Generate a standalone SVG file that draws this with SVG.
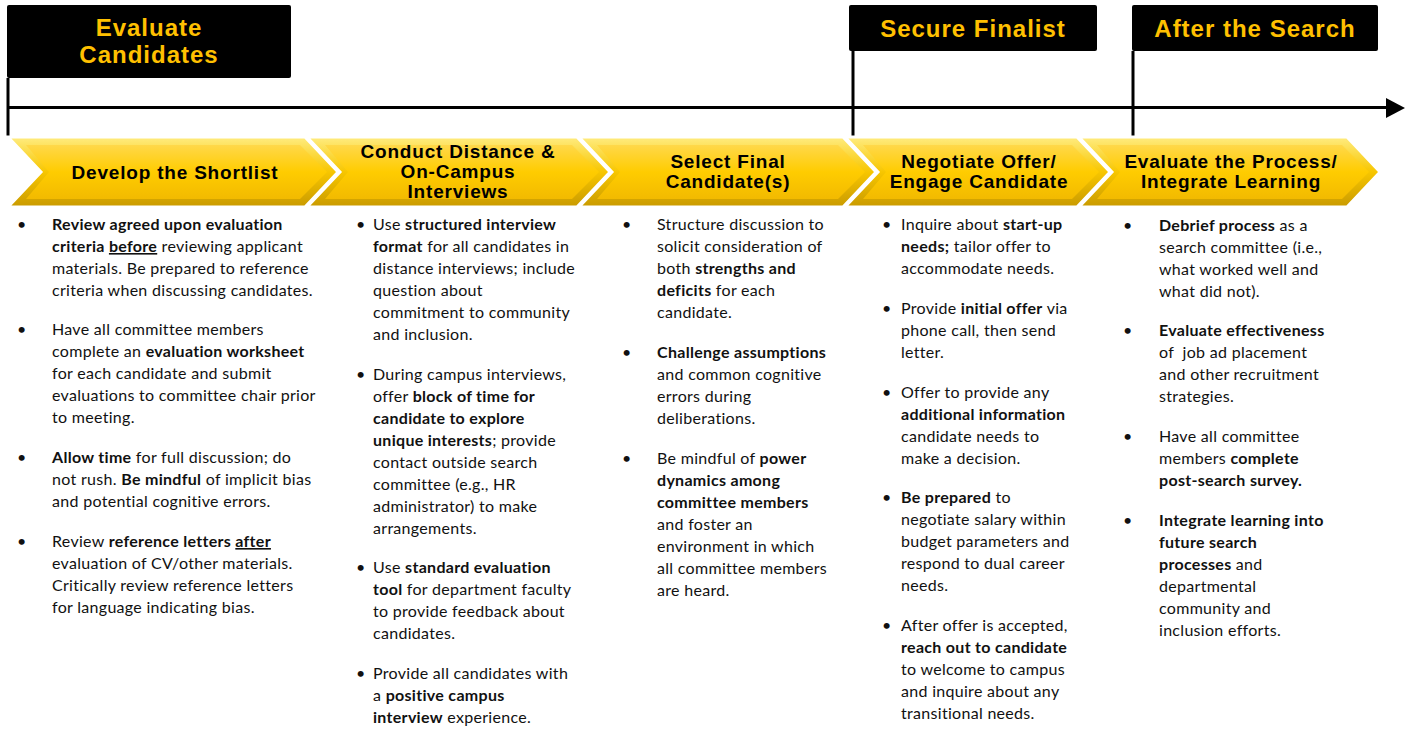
<svg xmlns="http://www.w3.org/2000/svg" width="1408" height="730" viewBox="0 0 1408 730">
<defs>
<linearGradient id="gOuter" x1="0" y1="0" x2="0" y2="1">
<stop offset="0" stop-color="#FFEC80"/>
<stop offset="0.5" stop-color="#F7C600"/>
<stop offset="1" stop-color="#C99A00"/>
</linearGradient>
<linearGradient id="gInner" x1="0" y1="0" x2="0" y2="1">
<stop offset="0" stop-color="#FFD84A"/>
<stop offset="0.5" stop-color="#FFCC00"/>
<stop offset="1" stop-color="#F2BA00"/>
</linearGradient>
</defs>
<style>
.hdr{fill:#000}
.htxt{font-family:"Liberation Sans",Arial,sans-serif;font-weight:bold;font-size:24px;fill:#FFC000;letter-spacing:1px;text-anchor:middle}
.chev{fill:url(#gOuter);stroke:#fff;stroke-width:3}
.chevin{fill:url(#gInner)}
.ctxt{font-family:"Liberation Sans",Arial,sans-serif;font-weight:bold;font-size:19px;fill:#000;letter-spacing:0.8px;text-anchor:middle}
.ln{stroke:#000;stroke-width:3;fill:none}
.t{font-family:Lato,"Open Sans",sans-serif;font-size:16px;letter-spacing:0.3px;fill:#111}
.b{font-weight:bold}
.u{text-decoration:underline}
</style>
<rect width="1408" height="730" fill="#fff"/>

<g id="connectors">
<line class="ln" x1="8" y1="78" x2="8" y2="137"/>
<line class="ln" x1="853" y1="51" x2="853" y2="137"/>
<line class="ln" x1="1133" y1="51" x2="1133" y2="137"/>
<line class="ln" x1="7" y1="107.5" x2="1388" y2="107.5"/>
<polygon points="1386,98 1405,108 1386,118" fill="#000"/>
</g>

<g id="phase-evaluate">
<rect class="hdr" x="7" y="5" width="284" height="73" rx="2"/>
<text class="htxt" x="149" y="36">Evaluate</text>
<text class="htxt" x="149" y="63">Candidates</text>
</g>
<g id="phase-secure">
<rect class="hdr" x="849" y="5" width="248" height="46" rx="2"/>
<text class="htxt" x="973" y="37">Secure Finalist</text>
</g>
<g id="phase-after">
<rect class="hdr" x="1132" y="5" width="246" height="46" rx="2"/>
<text class="htxt" x="1255" y="37">After the Search</text>
</g>

<g id="step-shortlist">
<polygon class="chev" points="8,137 305,137 338,172 305,207 8,207 41,172"/>
<polygon class="chevin" points="26,145 300,145 327,172 300,199 26,199 49,172"/>
<text class="ctxt" x="175" y="179">Develop the Shortlist</text>
</g>
<g id="step-interviews">
<polygon class="chev" points="307,137 577,137 610,172 577,207 307,207 340,172"/>
<polygon class="chevin" points="325,145 572,145 599,172 572,199 325,199 348,172"/>
<text class="ctxt" x="458" y="158">Conduct Distance &amp;</text>
<text class="ctxt" x="458" y="178">On-Campus</text>
<text class="ctxt" x="458" y="198">Interviews</text>
</g>
<g id="step-select">
<polygon class="chev" points="579,137 843,137 876,172 843,207 579,207 612,172"/>
<polygon class="chevin" points="597,145 838,145 865,172 838,199 597,199 620,172"/>
<text class="ctxt" x="728" y="168">Select Final</text>
<text class="ctxt" x="728" y="188">Candidate(s)</text>
</g>
<g id="step-negotiate">
<polygon class="chev" points="845,137 1077,137 1110,172 1077,207 845,207 878,172"/>
<polygon class="chevin" points="863,145 1072,145 1099,172 1072,199 863,199 886,172"/>
<text class="ctxt" x="979" y="168">Negotiate Offer/</text>
<text class="ctxt" x="979" y="188">Engage Candidate</text>
</g>
<g id="step-evaluate">
<polygon class="chev" points="1079,137 1347,137 1380,172 1347,207 1079,207 1112,172"/>
<polygon class="chevin" points="1097,145 1342,145 1369,172 1342,199 1097,199 1120,172"/>
<text class="ctxt" x="1231" y="168">Evaluate the Process/</text>
<text class="ctxt" x="1231" y="188">Integrate Learning</text>
</g>

<g id="col-shortlist" class="t">
<text x="17" y="230">•</text>
<text x="52" y="230" class="b">Review agreed upon evaluation</text>
<text x="52" y="252"><tspan class="b">criteria </tspan><tspan class="b u">before</tspan> reviewing applicant</text>
<text x="52" y="274">materials. Be prepared to reference</text>
<text x="52" y="296">criteria when discussing candidates.</text>
<text x="17" y="335">•</text>
<text x="52" y="335">Have all committee members</text>
<text x="52" y="357">complete an <tspan class="b">evaluation worksheet</tspan></text>
<text x="52" y="379">for each candidate and submit</text>
<text x="52" y="401">evaluations to committee chair prior</text>
<text x="52" y="423">to meeting.</text>
<text x="17" y="463">•</text>
<text x="52" y="463"><tspan class="b">Allow time</tspan> for full discussion; do</text>
<text x="52" y="485">not rush. <tspan class="b">Be mindful</tspan> of implicit bias</text>
<text x="52" y="507">and potential cognitive errors.</text>
<text x="17" y="547">•</text>
<text x="52" y="547">Review <tspan class="b">reference letters </tspan><tspan class="b u">after</tspan></text>
<text x="52" y="569">evaluation of CV/other materials.</text>
<text x="52" y="591">Critically review reference letters</text>
<text x="52" y="613">for language indicating bias.</text>
</g>

<g id="col-interviews" class="t">
<text x="356" y="230">•</text>
<text x="373" y="230">Use <tspan class="b">structured interview</tspan></text>
<text x="373" y="252"><tspan class="b">format</tspan> for all candidates in</text>
<text x="373" y="274">distance interviews; include</text>
<text x="373" y="296">question about</text>
<text x="373" y="318">commitment to community</text>
<text x="373" y="340">and inclusion.</text>
<text x="356" y="380">•</text>
<text x="373" y="380">During campus interviews,</text>
<text x="373" y="402">offer <tspan class="b">block of time for</tspan></text>
<text x="373" y="424" class="b">candidate to explore</text>
<text x="373" y="446"><tspan class="b">unique interests</tspan>; provide</text>
<text x="373" y="468">contact outside search</text>
<text x="373" y="490">committee (e.g., HR</text>
<text x="373" y="512">administrator) to make</text>
<text x="373" y="534">arrangements.</text>
<text x="356" y="573">•</text>
<text x="373" y="573">Use <tspan class="b">standard evaluation</tspan></text>
<text x="373" y="595"><tspan class="b">tool</tspan> for department faculty</text>
<text x="373" y="617">to provide feedback about</text>
<text x="373" y="639">candidates.</text>
<text x="356" y="679">•</text>
<text x="373" y="679">Provide all candidates with</text>
<text x="373" y="701">a <tspan class="b">positive campus</tspan></text>
<text x="373" y="723"><tspan class="b">interview</tspan> experience.</text>
</g>

<g id="col-select" class="t">
<text x="622" y="230">•</text>
<text x="657" y="230">Structure discussion to</text>
<text x="657" y="252">solicit consideration of</text>
<text x="657" y="274">both <tspan class="b">strengths and</tspan></text>
<text x="657" y="296"><tspan class="b">deficits</tspan> for each</text>
<text x="657" y="318">candidate.</text>
<text x="622" y="358">•</text>
<text x="657" y="358" class="b">Challenge assumptions</text>
<text x="657" y="380">and common cognitive</text>
<text x="657" y="402">errors during</text>
<text x="657" y="424">deliberations.</text>
<text x="622" y="464">•</text>
<text x="657" y="464">Be mindful of <tspan class="b">power</tspan></text>
<text x="657" y="486" class="b">dynamics among</text>
<text x="657" y="508" class="b">committee members</text>
<text x="657" y="530">and foster an</text>
<text x="657" y="552">environment in which</text>
<text x="657" y="574">all committee members</text>
<text x="657" y="596">are heard.</text>
</g>

<g id="col-negotiate" class="t">
<text x="882" y="230">•</text>
<text x="901" y="230">Inquire about <tspan class="b">start-up</tspan></text>
<text x="901" y="252"><tspan class="b">needs;</tspan> tailor offer to</text>
<text x="901" y="274">accommodate needs.</text>
<text x="882" y="314">•</text>
<text x="901" y="314">Provide <tspan class="b">initial offer</tspan> via</text>
<text x="901" y="336">phone call, then send</text>
<text x="901" y="358">letter.</text>
<text x="882" y="398">•</text>
<text x="901" y="398">Offer to provide any</text>
<text x="901" y="420" class="b">additional information</text>
<text x="901" y="442">candidate needs to</text>
<text x="901" y="464">make a decision.</text>
<text x="882" y="503">•</text>
<text x="901" y="503"><tspan class="b">Be prepared</tspan> to</text>
<text x="901" y="525">negotiate salary within</text>
<text x="901" y="547">budget parameters and</text>
<text x="901" y="569">respond to dual career</text>
<text x="901" y="591">needs.</text>
<text x="882" y="631">•</text>
<text x="901" y="631">After offer is accepted,</text>
<text x="901" y="653" class="b">reach out to candidate</text>
<text x="901" y="675">to welcome to campus</text>
<text x="901" y="697">and inquire about any</text>
<text x="901" y="719">transitional needs.</text>
</g>

<g id="col-evaluate" class="t">
<text x="1123" y="231">•</text>
<text x="1159" y="231"><tspan class="b">Debrief process</tspan> as a</text>
<text x="1159" y="253">search committee (i.e.,</text>
<text x="1159" y="275">what worked well and</text>
<text x="1159" y="297">what did not).</text>
<text x="1123" y="336">•</text>
<text x="1159" y="336" class="b">Evaluate effectiveness</text>
<text x="1159" y="358" xml:space="preserve">of  job ad placement</text>
<text x="1159" y="380">and other recruitment</text>
<text x="1159" y="402">strategies.</text>
<text x="1123" y="442">•</text>
<text x="1159" y="442">Have all committee</text>
<text x="1159" y="464">members <tspan class="b">complete</tspan></text>
<text x="1159" y="486" class="b">post-search survey.</text>
<text x="1123" y="526">•</text>
<text x="1159" y="526" class="b">Integrate learning into</text>
<text x="1159" y="548" class="b">future search</text>
<text x="1159" y="570"><tspan class="b">processes</tspan> and</text>
<text x="1159" y="592">departmental</text>
<text x="1159" y="614">community and</text>
<text x="1159" y="636">inclusion efforts.</text>
</g>
</svg>
